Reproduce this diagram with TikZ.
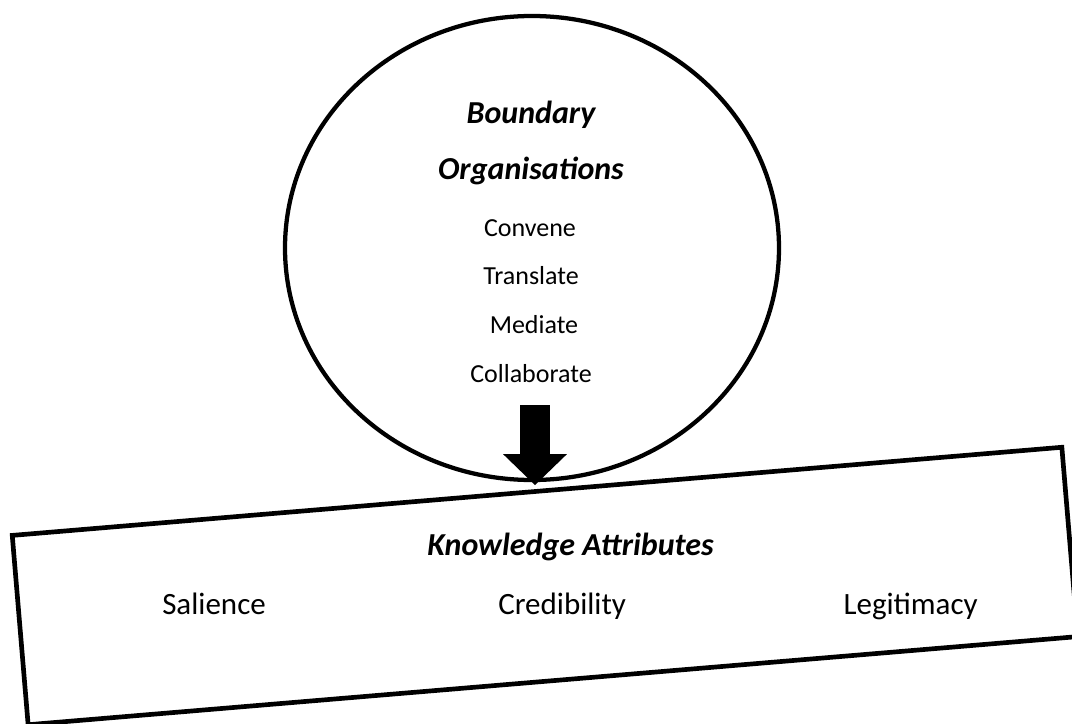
\documentclass[tikz,border=0pt]{standalone}
\usepackage{fontspec}
\setmainfont{Carlito}
\usetikzlibrary{arrows.meta}
\usetikzlibrary{shapes.geometric}
\usetikzlibrary{positioning}

\begin{document}
\begin{tikzpicture}[x=0.75pt,y=-0.75pt,every node/.style={inner sep=0pt}]
\tikzstyle{head} = [font=\fontsize{24}{28}\selectfont\bfseries\itshape, anchor=base]
\tikzstyle{task} = [font=\fontsize{19.5}{23}\selectfont, anchor=base]
\tikzstyle{attr} = [font=\fontsize{23.25}{28}\selectfont, anchor=base west]
\useasboundingbox (0,0) rectangle (1072,724);

\node[ellipse,draw,line width=3.2pt,minimum width=370.5pt,minimum height=348pt] (circ) at (532,248) {};

\node[head] (bo) at (531,123) {Boundary};
\node[head] (org) at (531,180) {Organisations};
\node[task] (conv) at (530,236) {Convene};
\node[task] (trans) at (531,284) {Translate};
\node[task] (med) at (534,333) {Mediate};
\node[task] (coll) at (531,382) {Collaborate};

\node[draw,line width=3.5pt,rotate=4.8,minimum width=790pt,minimum height=142.5pt] (box) at (545,586) {};

\node[head,anchor=base west] (know) at (427,555) {Knowledge Attributes};
\node[attr] (sal) at (162,614) {Salience};
\node[attr] (cred) at (498,614) {Credibility};
\node[attr,anchor=base east] (legit) at (978,614) {Legitimacy};

\coordinate (arrtop) at (535,405);
\draw[line width=22.5pt,shorten >=-2.25pt,-{Triangle[width=46.5pt,length=23.25pt]}] (arrtop) -- (arrtop |- circ.south);
\end{tikzpicture}
\end{document}
